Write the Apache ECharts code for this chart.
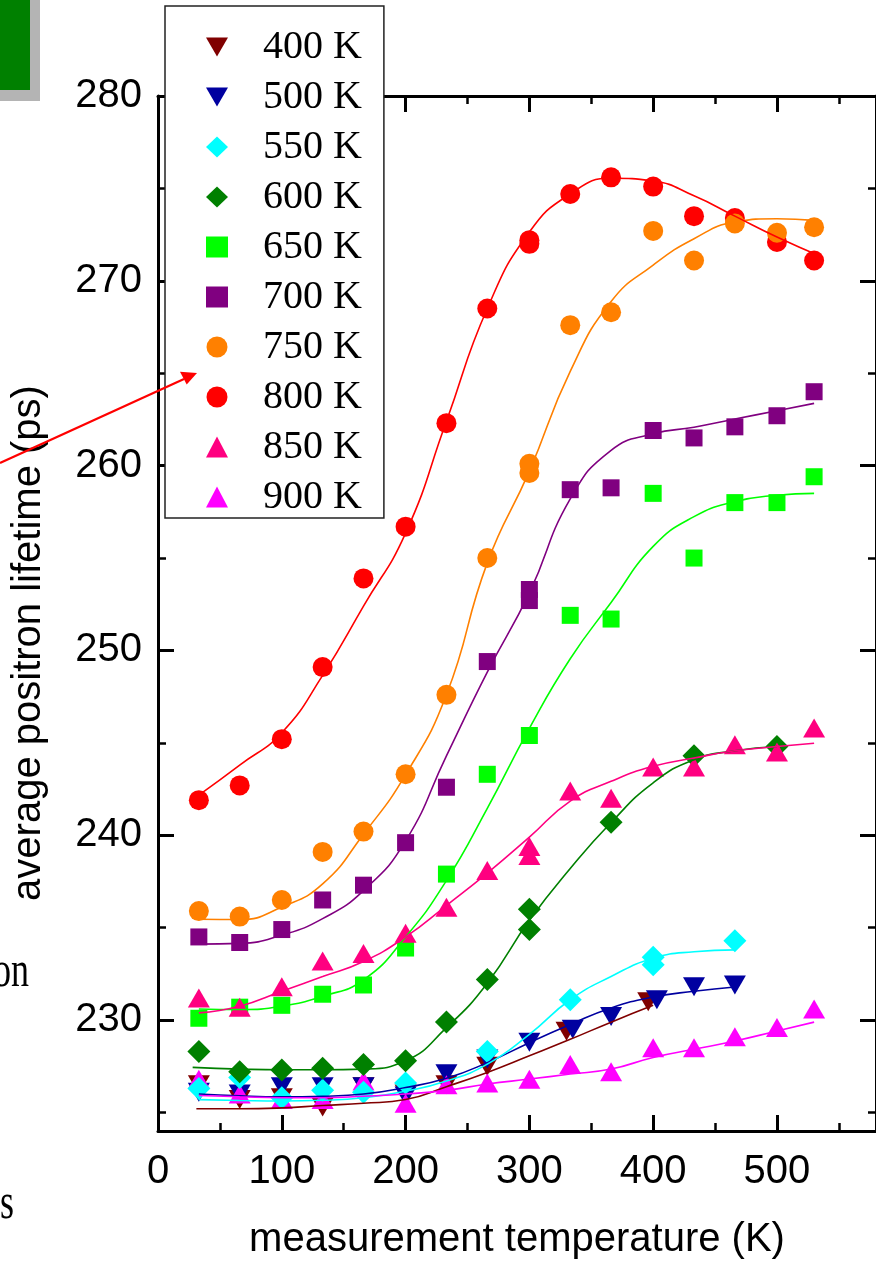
<!DOCTYPE html>
<html>
<head>
<meta charset="utf-8">
<script src="https://cdn.jsdelivr.net/npm/echarts@6/dist/echarts.min.js"></script>
<style>
html,body{margin:0;padding:0;background:#ffffff;}
#chart{width:876px;height:1265px;}
</style>
</head>
<body>
<div id="chart"></div>
<script>
// ---- axis ticks ----
const xTicks = [0, 100, 200, 300, 400, 500];
const xMinorTicks = [50, 150, 250, 350, 450, 550];
const yTicks = [230, 240, 250, 260, 270, 280];
const yMinorTicks = [225, 235, 245, 255, 265, 275];

// ---- legend / series names (annealing temperature) ----
const seriesNames = ['400 K', '500 K', '550 K', '600 K', '650 K', '700 K', '750 K', '800 K', '850 K', '900 K'];

// ---- measured points [measurement temperature K, average lifetime ps] ----
const pts400 = [[33,226.5],[66,225.7],[100,225.8],[133,225.3],[166,226.4],[200,226.0],[233,226.5],[266,227.5],[330,229.4],[396,231.0]];
const pts500 = [[33,226.1],[66,226.0],[100,226.4],[133,226.4],[166,226.4],[200,225.9],[233,227.1],[266,227.9],[300,228.8],[335,229.5],[366,230.2],[403,231.1],[433,231.8],[466,231.9]];
const pts550 = [[33,226.3],[66,226.9],[100,225.8],[133,226.2],[166,226.1],[200,226.6],[266,228.3],[333,231.1],[400,233.4],[400,233.0],[466,234.3]];
const pts600 = [[33,228.3],[66,227.2],[100,227.3],[133,227.4],[166,227.6],[200,227.8],[233,229.9],[266,232.2],[300,236.0],[300,234.9],[366,240.7],[433,244.3],[500,244.8]];
const pts650 = [[33,230.1],[66,230.7],[100,230.8],[133,231.4],[166,231.9],[200,233.9],[233,237.9],[266,243.3],[300,245.4],[333,251.9],[366,251.7],[400,258.5],[433,255.0],[466,258.0],[500,258.0],[530,259.4]];
const pts700 = [[33,234.5],[66,234.2],[100,234.9],[133,236.5],[166,237.3],[200,239.6],[233,242.6],[266,249.4],[300,253.3],[300,252.7],[333,258.7],[366,258.8],[400,261.9],[433,261.5],[466,262.1],[500,262.7],[530,264.0]];
const pts750 = [[33,235.9],[66,235.6],[100,236.5],[133,239.1],[166,240.2],[200,243.3],[233,247.6],[266,255.0],[300,260.1],[300,259.6],[333,267.6],[366,268.3],[400,272.7],[433,271.1],[466,273.1],[500,272.6],[530,272.9]];
const pts800 = [[33,241.9],[66,242.7],[100,245.2],[133,249.1],[166,253.9],[200,256.7],[233,262.3],[266,268.5],[300,272.2],[300,272.0],[333,274.7],[366,275.6],[400,275.1],[433,273.5],[466,273.4],[500,272.1],[530,271.1]];
const pts850 = [[33,231.2],[66,230.7],[100,231.8],[133,233.2],[166,233.6],[200,234.7],[233,236.1],[266,238.1],[300,239.4],[300,238.9],[333,242.4],[366,242.0],[400,243.7],[433,243.7],[466,244.9],[500,244.5],[530,245.8]];
const pts900 = [[33,226.8],[66,226.0],[100,225.7],[133,225.7],[166,226.7],[200,225.5],[233,226.5],[266,226.6],[300,226.8],[333,227.6],[366,227.2],[400,228.5],[433,228.5],[466,229.1],[500,229.6],[530,230.6]];

// ---- fitted curves ----
const fit400 = [[31,225.2],[66,225.2],[100,225.25],[133,225.38],[166,225.5],[200,225.7],[233,226.4],[266,227.17],[300,228.07],[333,228.96],[366,229.89],[400,230.8]];
const fit500 = [[33,226.0],[66,225.9],[100,225.85],[133,225.88],[166,226.0],[200,226.35],[233,226.85],[266,227.7],[300,228.78],[333,229.76],[366,230.66],[400,231.25],[433,231.56],[466,231.79]];
const fit550 = [[33,225.7],[66,225.65],[100,225.62],[133,225.66],[166,225.8],[200,226.15],[233,226.7],[266,227.62],[300,229.23],[333,231.1],[366,232.36],[400,233.35],[433,233.7],[466,233.8]];
const fit600 = [[28,227.44],[66,227.35],[100,227.31],[133,227.31],[166,227.35],[200,227.8],[233,229.59],[266,232.0],[300,235.4],[333,238.2],[366,240.69],[400,242.84],[433,244.09],[466,244.57],[500,244.8]];
const fit650 = [[33,230.6],[66,230.57],[100,230.75],[133,231.29],[166,232.18],[200,234.5],[233,237.55],[266,241.46],[300,245.79],[333,249.55],[366,252.59],[400,255.63],[433,257.24],[466,258.05],[500,258.4],[530,258.5]];
const fit700 = [[33,234.11],[66,234.15],[100,234.6],[133,235.49],[166,237.01],[200,239.7],[233,244.3],[266,248.83],[300,253.12],[333,258.2],[366,260.83],[400,261.72],[433,262.08],[466,262.52],[500,262.97],[530,263.37]];
const fit750 = [[33,235.46],[66,235.44],[100,236.12],[133,237.37],[166,240.06],[200,243.28],[233,247.6],[266,254.74],[300,259.7],[333,265.1],[366,268.88],[400,270.85],[433,272.28],[466,273.18],[500,273.36],[530,273.27]];
const fit800 = [[33,242.17],[66,243.8],[100,245.55],[133,248.65],[166,252.4],[200,256.35],[233,262.4],[266,268.5],[300,272.64],[333,274.7],[366,275.55],[400,275.4],[433,274.6],[466,273.5],[500,272.37],[535,271.33]];
const fit850 = [[33,230.39],[66,230.75],[100,231.56],[133,232.36],[166,233.17],[200,234.5],[233,236.2],[266,237.95],[300,239.9],[333,241.85],[366,242.92],[400,243.73],[433,244.18],[466,244.57],[500,244.8],[530,244.98]];
const fit900 = [[33,225.92],[66,225.85],[100,225.8],[133,225.8],[166,225.88],[200,226.0],[233,226.2],[266,226.54],[300,226.81],[333,227.08],[366,227.35],[400,227.98],[433,228.42],[466,228.87],[500,229.41],[530,229.89]];

const pointsByName = {'400 K':pts400,'500 K':pts500,'550 K':pts550,'600 K':pts600,'650 K':pts650,'700 K':pts700,'750 K':pts750,'800 K':pts800,'850 K':pts850,'900 K':pts900};
const fitsByName = {'400 K':fit400,'500 K':fit500,'550 K':fit550,'600 K':fit600,'650 K':fit650,'700 K':fit700,'750 K':fit750,'800 K':fit800,'850 K':fit850,'900 K':fit900};

// ---- styles ----
const DOWN_TRIANGLE = 'path://M0,0L22,0L11,19Z';
const styleByName = {
  '400 K': {color:'#800000', symbol:'triangle', size:[22,19], rotate:180, legendIcon: DOWN_TRIANGLE},
  '500 K': {color:'#0000A0', symbol:'triangle', size:[22,19], rotate:180, legendIcon: DOWN_TRIANGLE},
  '550 K': {color:'#00FFFF', symbol:'diamond', size:[23,23], rotate:0},
  '600 K': {color:'#008000', symbol:'diamond', size:[23,23], rotate:0},
  '650 K': {color:'#00FF00', symbol:'rect', size:[17,17], rotate:0},
  '700 K': {color:'#800080', symbol:'rect', size:[17,17], rotate:0},
  '750 K': {color:'#FF8000', symbol:'circle', size:[20,20], rotate:0},
  '800 K': {color:'#FF0000', symbol:'circle', size:[20,20], rotate:0},
  '850 K': {color:'#FF0080', symbol:'triangle', size:[22,19], rotate:0},
  '900 K': {color:'#FF00FF', symbol:'triangle', size:[22,19], rotate:0}
};
const drawOrder = ['400 K','500 K','900 K','550 K','600 K','650 K','700 K','800 K','750 K','850 K'];

const SANS = '"Liberation Sans", Arial, Helvetica, sans-serif';
const SERIF = '"Liberation Serif", "Times New Roman", serif';

const series = [];
drawOrder.forEach(function (n) {
  const st = styleByName[n];
  series.push({
    name: n, type: 'scatter', xAxisIndex: 0, yAxisIndex: 0,
    data: pointsByName[n], symbol: st.symbol, symbolSize: st.size, symbolRotate: st.rotate,
    itemStyle: {color: st.color, opacity: 1}, z: 2, silent: true
  });
});
seriesNames.forEach(function (n) {
  const st = styleByName[n];
  series.push({
    name: n + ' fit', type: 'line', xAxisIndex: 0, yAxisIndex: 0,
    data: fitsByName[n], symbol: 'none', showSymbol: false, smooth: 0.5,
    lineStyle: {color: st.color, width: 1.6}, itemStyle: {color: st.color}, z: 3, silent: true
  });
});

const legendData = seriesNames.map(function (n) {
  const st = styleByName[n];
  const item = {name: n};
  if (st.legendIcon) item.icon = st.legendIcon;
  return item;
});

const lineStyleAxis = {color: '#000', width: 3};
function xAxisDef(pos, ticks, len, withLabels, showLine) {
  const a = {
    type: 'value', position: pos, min: 0, max: 580,
    axisLine: {show: showLine, onZero: false, lineStyle: lineStyleAxis},
    axisTick: {show: true, inside: true, length: len, customValues: ticks, lineStyle: {color: '#000', width: len > 10 ? 3 : 2.5}},
    axisLabel: withLabels ? {show: true, customValues: ticks, margin: 21, fontSize: 40, fontFamily: SANS, color: '#000'} : {show: false},
    splitLine: {show: false}
  };
  if (withLabels) {
    a.name = 'measurement temperature (K)';
    a.nameLocation = 'middle';
    a.nameGap = 89;
    a.nameTextStyle = {fontSize: 40, fontFamily: SANS, color: '#000'};
  }
  return a;
}
function yAxisDef(pos, ticks, len, withLabels, showLine) {
  return {
    type: 'value', position: pos, min: 224, max: 280,
    axisLine: {show: showLine, onZero: false, lineStyle: lineStyleAxis},
    axisTick: {show: true, inside: true, length: len, customValues: ticks, lineStyle: {color: '#000', width: len > 10 ? 3 : 2.5}},
    axisLabel: withLabels ? {show: true, customValues: ticks, margin: 16, fontSize: 40, fontFamily: SANS, color: '#000'} : {show: false},
    splitLine: {show: false}
  };
}

const option = {
  animation: false,
  backgroundColor: '#ffffff',
  grid: {left: 158, top: 96, width: 721, height: 1043, containLabel: false},
  xAxis: [
    xAxisDef('bottom', xTicks, 16, true, true),
    xAxisDef('bottom', xMinorTicks, 8, false, false),
    xAxisDef('top', xTicks, 16, false, true),
    xAxisDef('top', xMinorTicks, 8, false, false)
  ],
  yAxis: [
    yAxisDef('left', yTicks, 16, true, true),
    yAxisDef('left', yMinorTicks, 8, false, false),
    yAxisDef('right', yTicks, 16, false, true),
    yAxisDef('right', yMinorTicks, 8, false, false)
  ],
  legend: {
    data: legendData, orient: 'vertical', left: 165, top: 6,
    padding: [21, 22, 1, 41], itemWidth: 22, itemHeight: 21, itemGap: 10,
    symbolKeepAspect: true,
    backgroundColor: '#ffffff', borderColor: '#222', borderWidth: 1.5, borderRadius: 0,
    textStyle: {fontFamily: SERIF, fontSize: 40, color: '#000', padding: [0, 0, 0, 30]},
    selectedMode: false, z: 10
  },
  graphic: [
    {type: 'rect', shape: {x: 0, y: 0, width: 40, height: 101}, style: {fill: '#b4b4b4'}, z: 100},
    {type: 'rect', shape: {x: 0, y: 0, width: 30, height: 90}, style: {fill: '#008000'}, z: 101},
    {type: 'text', x: 29, y: 643, rotation: Math.PI / 2,
      style: {text: 'average positron lifetime (ps)', fontSize: 40, fontFamily: SANS, fill: '#000', textAlign: 'center', textVerticalAlign: 'middle'}, z: 100},
    {type: 'text', x: 29, y: 998, scaleY: 1.4,
      style: {text: 'on', fontSize: 36, fontFamily: SERIF, fill: '#000', textAlign: 'right', textVerticalAlign: 'bottom'}, z: 100},
    {type: 'text', x: 0, y: 1230, scaleY: 1.4,
      style: {text: 's', fontSize: 36, fontFamily: SERIF, fill: '#000', textAlign: 'left', textVerticalAlign: 'bottom'}, z: 100},
    {type: 'line', shape: {x1: 0, y1: 463, x2: 184, y2: 379}, style: {stroke: '#ff0000', lineWidth: 2.2}, z: 110},
    {type: 'polygon', shape: {points: [[197, 373], [180, 371.7], [186.7, 384.5]]}, style: {fill: '#ff0000'}, z: 110}
  ],
  series: series
};

const chart = echarts.init(document.getElementById('chart'), null, {renderer: 'canvas', width: 876, height: 1265});
chart.setOption(option);
</script>
</body>
</html>
